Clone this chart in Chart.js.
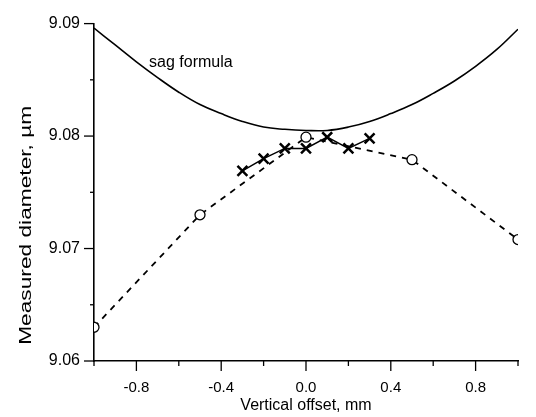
<!DOCTYPE html>
<html>
<head>
<meta charset="utf-8">
<script src="https://cdn.jsdelivr.net/npm/chart.js@4.4.1/dist/chart.umd.min.js"></script>
<style>
  html, body { margin: 0; padding: 0; background: #ffffff; }
  #wrap { width: 536px; height: 417px; position: relative; }
</style>
</head>
<body>
<div id="wrap"><canvas id="c" width="536" height="417"></canvas></div>
<script>
// ---- data ----
const sagX = [-1.0, -0.9, -0.8, -0.7, -0.6, -0.5, -0.4, -0.3, -0.2, -0.1, 0.0, 0.1, 0.2, 0.3, 0.4, 0.5, 0.6, 0.7, 0.8, 0.9, 1.0];
const sagY = [9.0896, 9.0881, 9.0866, 9.0852, 9.0839, 9.0828, 9.0820, 9.0813, 9.0808, 9.0806, 9.0805, 9.0805, 9.0808, 9.0813, 9.0820, 9.0828, 9.0838, 9.0849, 9.0862, 9.0877, 9.0895];

const circleX = [-1.0, -0.5, 0.0, 0.5, 1.0];
const circleY = [9.0630, 9.0730, 9.0799, 9.0779, 9.0708];

const crossX = [-0.3, -0.2, -0.1, 0.0, 0.1, 0.2, 0.3];
const crossY = [9.0769, 9.0780, 9.0789, 9.0789, 9.0799, 9.0789, 9.0798];

const xTickLabels = ['-0.8', '-0.4', '0.0', '0.4', '0.8'];
const yTickLabels = ['9.06', '9.07', '9.08', '9.09'];

const xTitle = 'Vertical offset, mm';
const yTitle = 'Measured diameter, \u00b5m';
const curveLabel = 'sag formula';

const pts = (xs, ys) => xs.map((x, i) => ({ x: x, y: ys[i] }));

const FONT = '"Liberation Sans", Arial, sans-serif';

function fmtX(v) {
  const r = Math.round(v * 10) / 10;
  return (Math.abs(r) < 1e-9 ? 0 : r).toFixed(1);
}
function fmtY(v) {
  const m = Math.round(v * 1000);
  if (m % 10 !== 0) return '';
  return (m / 1000).toFixed(2);
}

const tickMarks = {
  id: 'tickMarks',
  afterDraw(chart) {
    const ctx = chart.ctx;
    const xs = chart.scales.x, ys = chart.scales.y;
    ctx.save();
    ctx.strokeStyle = '#000';
    ctx.lineWidth = 1.3;
    xs.ticks.forEach(t => {
      const v = t.value;
      const px = xs.getPixelForValue(v);
      const major = xTickLabels.includes(fmtX(v));
      const len = major ? 10 : 5;
      ctx.beginPath();
      ctx.moveTo(px, xs.top);
      ctx.lineTo(px, xs.top + len);
      ctx.stroke();
    });
    ys.ticks.forEach(t => {
      const v = t.value;
      const py = ys.getPixelForValue(v);
      const major = yTickLabels.includes(fmtY(v));
      const len = major ? 10 : 4;
      ctx.beginPath();
      ctx.moveTo(ys.right - len, py);
      ctx.lineTo(ys.right, py);
      ctx.stroke();
    });
    // curve label, placed in data coordinates
    ctx.fillStyle = '#000';
    ctx.font = '16px ' + FONT;
    ctx.textAlign = 'left';
    ctx.textBaseline = 'middle';
    ctx.fillText(curveLabel, xs.getPixelForValue(-0.74), ys.getPixelForValue(9.0865));
    // y title (stretched like the scanned original)
    ctx.save();
    ctx.translate(27, (ys.top + ys.bottom) / 2 + 33);
    ctx.rotate(-Math.PI / 2);
    ctx.scale(1.42, 1);
    ctx.font = '16px ' + FONT;
    ctx.textAlign = 'center';
    ctx.textBaseline = 'middle';
    ctx.fillText(yTitle, 0, 0);
    ctx.restore();
    ctx.restore();
  }
};

new Chart(document.getElementById('c'), {
  type: 'scatter',
  data: {
    datasets: [
      {
        label: 'sag',
        data: pts(sagX, sagY),
        showLine: true,
        borderColor: '#000',
        borderWidth: 1.6,
        pointRadius: 0,
        tension: 0.4,
        fill: false
      },
      {
        label: 'circles',
        data: pts(circleX, circleY),
        showLine: true,
        borderColor: '#000',
        borderWidth: 1.8,
        borderDash: [6, 6],
        pointStyle: 'circle',
        pointRadius: 5,
        pointBorderWidth: 1.3,
        pointBorderColor: '#000',
        pointBackgroundColor: '#fff',
        fill: false
      },
      {
        label: 'crosses',
        data: pts(crossX, crossY),
        showLine: true,
        borderColor: '#000',
        borderWidth: 1.5,
        pointStyle: 'crossRot',
        pointRadius: 7,
        pointBorderWidth: 2.5,
        pointBorderColor: '#000',
        fill: false
      }
    ]
  },
  options: {
    responsive: false,
    animation: false,
    events: [],
    layout: { padding: { top: 16, right: 13, left: 0, bottom: 0 } },
    plugins: {
      legend: { display: false },
      tooltip: { enabled: false }
    },
    scales: {
      x: {
        type: 'linear',
        min: -1,
        max: 1,
        afterFit(scale) { scale.height = 56; },
        afterBuildTicks(scale) {
          scale.ticks = [];
          for (let i = -5; i <= 5; i++) scale.ticks.push({ value: i / 5 });
        },
        grid: { display: true, drawOnChartArea: false, drawTicks: false },
        border: { display: true, color: '#000', width: 1.6 },
        ticks: {
          padding: 18,
          color: '#000',
          font: { family: FONT, size: 15 },
          maxRotation: 0,
          autoSkip: false,
          callback(v) { const s = fmtX(v); return xTickLabels.includes(s) ? s : ''; }
        },
        title: {
          display: true,
          text: xTitle,
          color: '#000',
          font: { family: FONT, size: 16 },
          padding: { top: 0, bottom: 2 }
        }
      },
      y: {
        type: 'linear',
        min: 9.06,
        max: 9.09,
        afterFit(scale) { scale.width = 94; },
        afterBuildTicks(scale) {
          scale.ticks = [];
          for (let i = 0; i <= 6; i++) scale.ticks.push({ value: 9.06 + i * 0.005 });
        },
        grid: { display: true, drawOnChartArea: false, drawTicks: false },
        border: { display: true, color: '#000', width: 1.6 },
        ticks: {
          padding: 14,
          color: '#000',
          font: { family: FONT, size: 16 },
          autoSkip: false,
          callback(v) { const s = fmtY(v); return yTickLabels.includes(s) ? s : ''; }
        }
      }
    }
  },
  plugins: [tickMarks]
});
</script>
</body>
</html>
